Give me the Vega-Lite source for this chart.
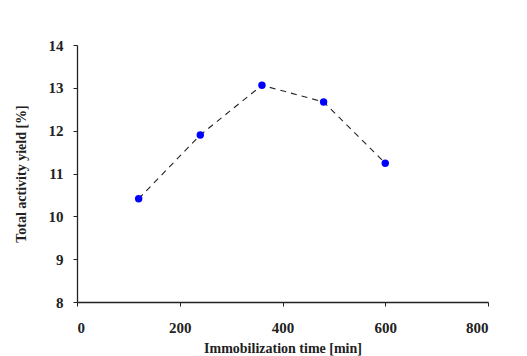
{
  "$schema": "https://vega.github.io/schema/vega-lite/v6.json",
  "autosize": "none",
  "width": 411,
  "height": 257,
  "padding": {"left": 77, "top": 45, "right": 39, "bottom": 54},
  "background": "white",
  "config": {
    "view": {"stroke": null},
    "font": "Liberation Serif",
    "axis": {
      "labelFont": "Liberation Serif",
      "labelFontSize": 15,
      "labelFontWeight": "bold",
      "labelColor": "#222222",
      "titleFont": "Liberation Serif",
      "titleFontSize": 14,
      "titleFontWeight": "bold",
      "titleColor": "#222222",
      "domainColor": "#222222",
      "domainWidth": 1.3,
      "tickColor": "#222222",
      "tickSize": 4,
      "grid": false
    }
  },
  "data": {
    "values": [
      {"time": 120, "yield": 10.41},
      {"time": 240, "yield": 11.9},
      {"time": 360, "yield": 13.06},
      {"time": 480, "yield": 12.67},
      {"time": 600, "yield": 11.24}
    ]
  },
  "layer": [
    {
      "mark": {"type": "line", "color": "#222222", "strokeWidth": 1.1, "strokeDash": [6, 5]},
      "encoding": {
        "x": {"field": "time", "type": "quantitative"},
        "y": {"field": "yield", "type": "quantitative"}
      }
    },
    {
      "mark": {"type": "point", "filled": true, "color": "#0000FF", "size": 55, "opacity": 1},
      "encoding": {
        "x": {
          "field": "time",
          "type": "quantitative",
          "scale": {"domain": [0, 800], "nice": false},
          "axis": {"values": [0, 200, 400, 600, 800], "title": "Immobilization time [min]", "labelPadding": 14, "titlePadding": 6}
        },
        "y": {
          "field": "yield",
          "type": "quantitative",
          "scale": {"domain": [8, 14], "nice": false, "zero": false},
          "axis": {"values": [8, 9, 10, 11, 12, 13, 14], "title": "Total activity yield [%]", "labelPadding": 10, "titlePadding": 20}
        }
      }
    }
  ]
}
